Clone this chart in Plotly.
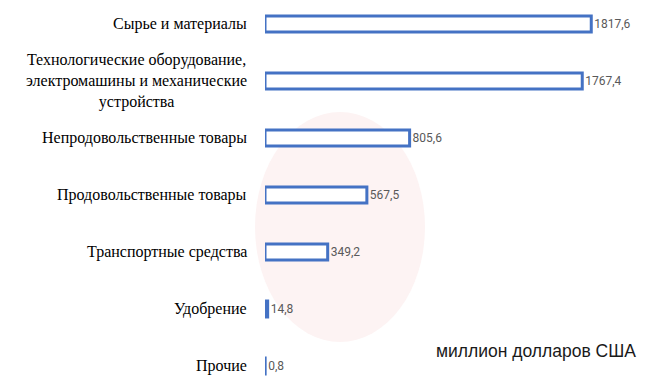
import plotly.graph_objects as go

categories = [
    "Сырье и материалы",
    "Технологические оборудование,<br>электромашины и механические<br>устройства",
    "Непродовольственные товары",
    "Продовольственные товары",
    "Транспортные средства",
    "Удобрение",
    "Прочие",
]
values = [1817.6, 1767.4, 805.6, 567.5, 349.2, 14.8, 0.8]
value_labels = ["1817,6", "1767,4", "805,6", "567,5", "349,2", "14,8", "0,8"]
unit_label = "миллион долларов США"

OFF = 8
W, H = 669 - OFF, 390 - OFF
L, R, T, B = 265 - OFF, 45, 0, 0
PW, PH = W - L - R, H - T - B


def px(x):
    return (x - OFF - L) / PW


def py(y):
    return 1 - (y - OFF - T) / PH


fig = go.Figure()
fig.add_trace(go.Bar(
    x=values,
    y=list(range(len(categories))),
    orientation="h",
    width=0.28,
    marker=dict(color="white", line=dict(color="#4472C4", width=3)),
    text=value_labels,
    textposition="outside",
    textfont=dict(family="Roboto", size=12, color="#595959"),
    cliponaxis=False,
    hoverinfo="skip",
))

for i, c in enumerate(categories):
    fig.add_annotation(
        x=0, y=i, xref="x", yref="y",
        text=c, showarrow=False,
        xanchor="right", yanchor="middle", align="center",
        xshift=-16,
        font=dict(family="Times New Roman", size=16, color="#000000"),
    )

fig.add_annotation(
    x=px(638), y=py(351), xref="paper", yref="paper", text=unit_label,
    showarrow=False, xanchor="right", yanchor="middle",
    font=dict(family="Liberation Sans", size=17.5, color="#1a1a1a"),
)

fig.add_shape(
    type="circle", xref="paper", yref="paper", layer="below",
    x0=px(255), x1=px(425), y0=py(112), y1=py(342),
    fillcolor="#FDF3F3", line=dict(width=0),
)

ppu = 57.0
fig.update_layout(
    width=W, height=H,
    margin=dict(l=L, r=R, t=T, b=B),
    paper_bgcolor="white", plot_bgcolor="white",
    showlegend=False,
    xaxis=dict(range=[0, 2000], visible=False),
    yaxis=dict(range=[6 + (H - (366 - OFF)) / ppu, -(24 - OFF) / ppu], visible=False),
)

fig.write_html("out.html")
